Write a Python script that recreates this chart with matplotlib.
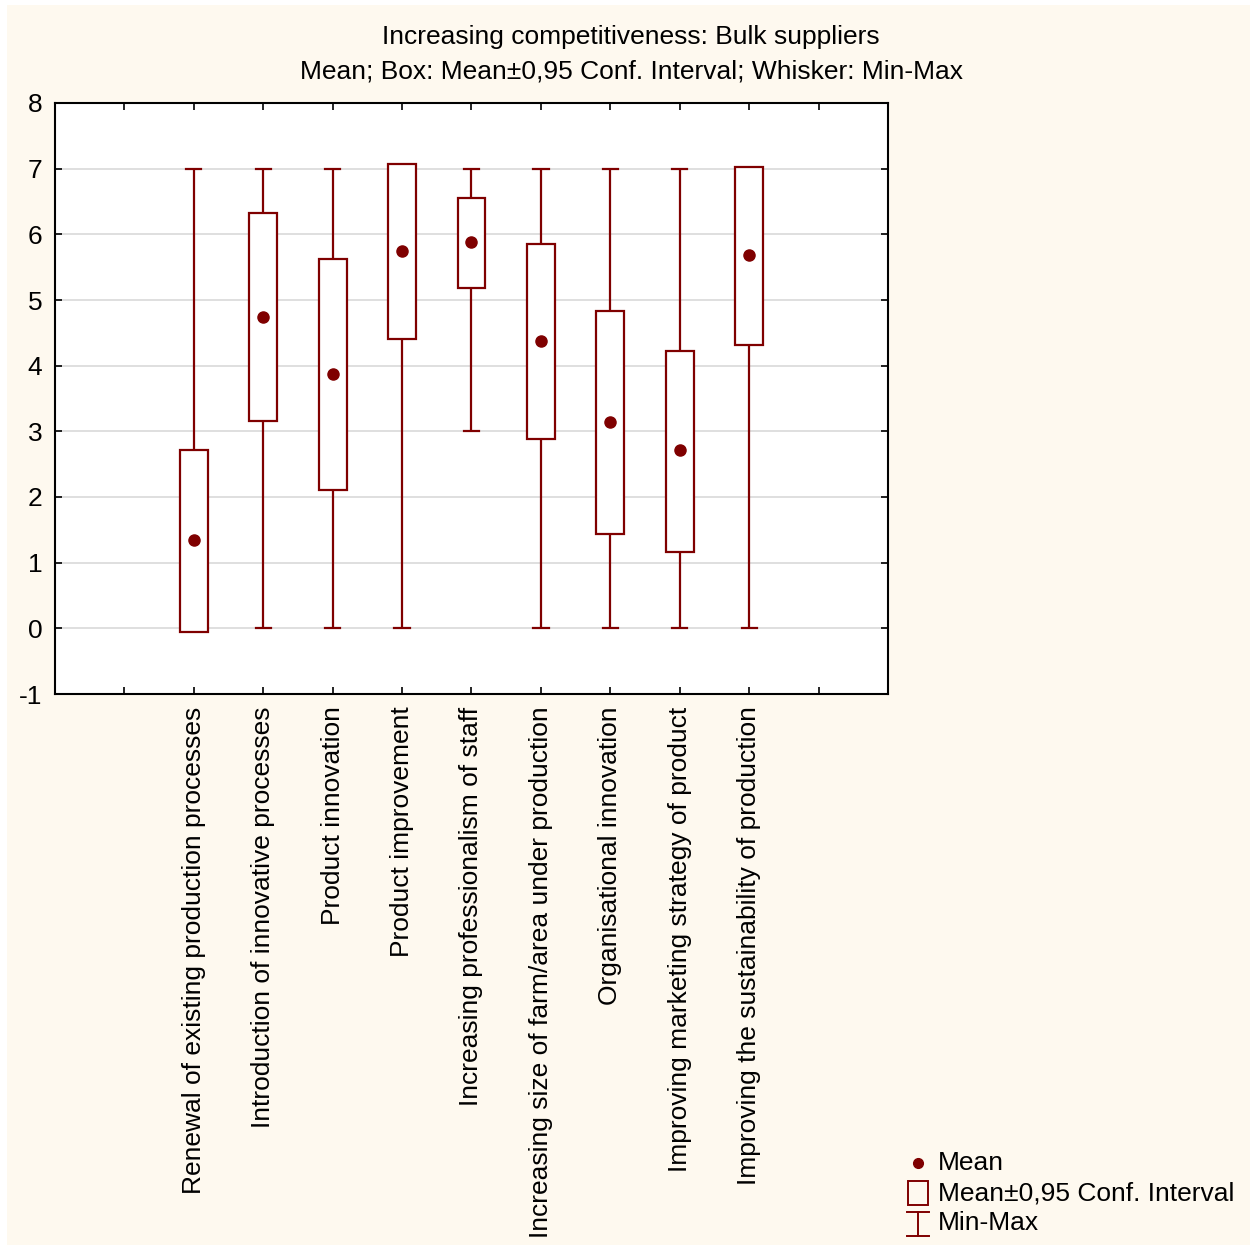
import matplotlib
matplotlib.use("Agg")
import matplotlib.pyplot as plt
from matplotlib.patches import Rectangle

plt.rcParams['font.family'] = ['Liberation Sans', 'DejaVu Sans']

categories = [
    "Renewal of existing production processes",
    "Introduction of innovative processes",
    "Product innovation",
    "Product improvement",
    "Increasing professionalism of staff",
    "Increasing size of farm/area under production",
    "Organisational innovation",
    "Improving marketing strategy of product",
    "Improving the sustainability of production",
]
means = [1.34, 4.74, 3.87, 5.74, 5.88, 4.37, 3.14, 2.71, 5.68]
ci_low = [-0.05, 3.15, 2.10, 4.40, 5.18, 2.89, 1.43, 1.17, 4.32]
ci_high = [2.72, 6.32, 5.63, 7.07, 6.55, 5.85, 4.83, 4.23, 7.02]
mins = [0, 0, 0, 0, 3, 0, 0, 0, 0]
maxs = [7, 7, 7, 7, 7, 7, 7, 7, 7]
y_ticks = [-1, 0, 1, 2, 3, 4, 5, 6, 7, 8]

DARK_RED = "#7f0000"
CREAM = "#fef9ef"
FS = 19
W, H = 1255, 1248

fig = plt.figure(figsize=(W / 100, H / 100), dpi=100)
fig.patch.set_facecolor("white")

# cream page background
bg = fig.add_axes([0, 0, 1, 1], zorder=-10)
bg.set_xlim(0, W)
bg.set_ylim(H, 0)
bg.axis("off")
bg.add_patch(Rectangle((7, 5), 1243, 1240, facecolor=CREAM, edgecolor="none"))

ax = fig.add_axes([55 / W, 1 - 694 / H, (888 - 55) / W, (694 - 103) / H])
ax.set_facecolor("white")

positions = list(range(1, len(categories) + 1))
box_w = 0.40
cap_w = 0.22
for x, m, lo, hi, mn, mx in zip(positions, means, ci_low, ci_high, mins, maxs):
    ax.plot([x, x], [mn, mx], color=DARK_RED, lw=1.6, zorder=2, solid_capstyle="butt")
    ax.plot([x - cap_w / 2, x + cap_w / 2], [mn, mn], color=DARK_RED, lw=1.6, zorder=2)
    ax.plot([x - cap_w / 2, x + cap_w / 2], [mx, mx], color=DARK_RED, lw=1.6, zorder=2)
    ax.add_patch(Rectangle((x - box_w / 2, lo), box_w, hi - lo, facecolor="white",
                           edgecolor=DARK_RED, lw=1.6, zorder=3))
    ax.plot([x], [m], "o", color=DARK_RED, ms=8, zorder=4)

ax.set_xlim(-1, 11)
ax.set_ylim(-1, 8)
ax.set_yticks(y_ticks)
ax.set_yticklabels([str(v) for v in y_ticks], fontsize=FS)
ax.set_xticks(range(0, 11))
ax.set_xticklabels([""] + categories + [""], rotation=90, fontsize=FS, va="top", ha="center")
ax.yaxis.grid(True, color="#d9d9d9", lw=1.2)
ax.set_axisbelow(True)
ax.tick_params(direction="in", length=5, width=1.2, top=True, right=True, color="black")
ax.tick_params(axis="y", pad=9)
ax.tick_params(axis="x", pad=9)
for s in ax.spines.values():
    s.set_linewidth(1.5)
    s.set_color("black")

fig.text(0.503, 1 - 37 / H, "Increasing competitiveness: Bulk suppliers",
         ha="center", va="center", fontsize=FS)
fig.text(0.503, 1 - 71 / H, "Mean; Box: Mean\u00b10,95 Conf. Interval; Whisker: Min-Max",
         ha="center", va="center", fontsize=FS)

# legend drawn in page pixel coordinates
leg = fig.add_axes([0, 0, 1, 1], zorder=5)
leg.set_xlim(0, W)
leg.set_ylim(H, 0)
leg.axis("off")
leg.plot([918], [1163], "o", color=DARK_RED, ms=7)
leg.add_patch(Rectangle((908, 1181), 20, 24, facecolor="none", edgecolor=DARK_RED, lw=1.4))
leg.plot([918, 918], [1212, 1236], color=DARK_RED, lw=1.4)
leg.plot([907, 929], [1212, 1212], color=DARK_RED, lw=1.4)
leg.plot([907, 929], [1236, 1236], color=DARK_RED, lw=1.4)
for y, t in zip([1163, 1193, 1223], ["Mean", "Mean\u00b10,95 Conf. Interval", "Min-Max"]):
    leg.text(938, y, t, ha="left", va="center", fontsize=FS)

fig.savefig("out.png", dpi=100)
